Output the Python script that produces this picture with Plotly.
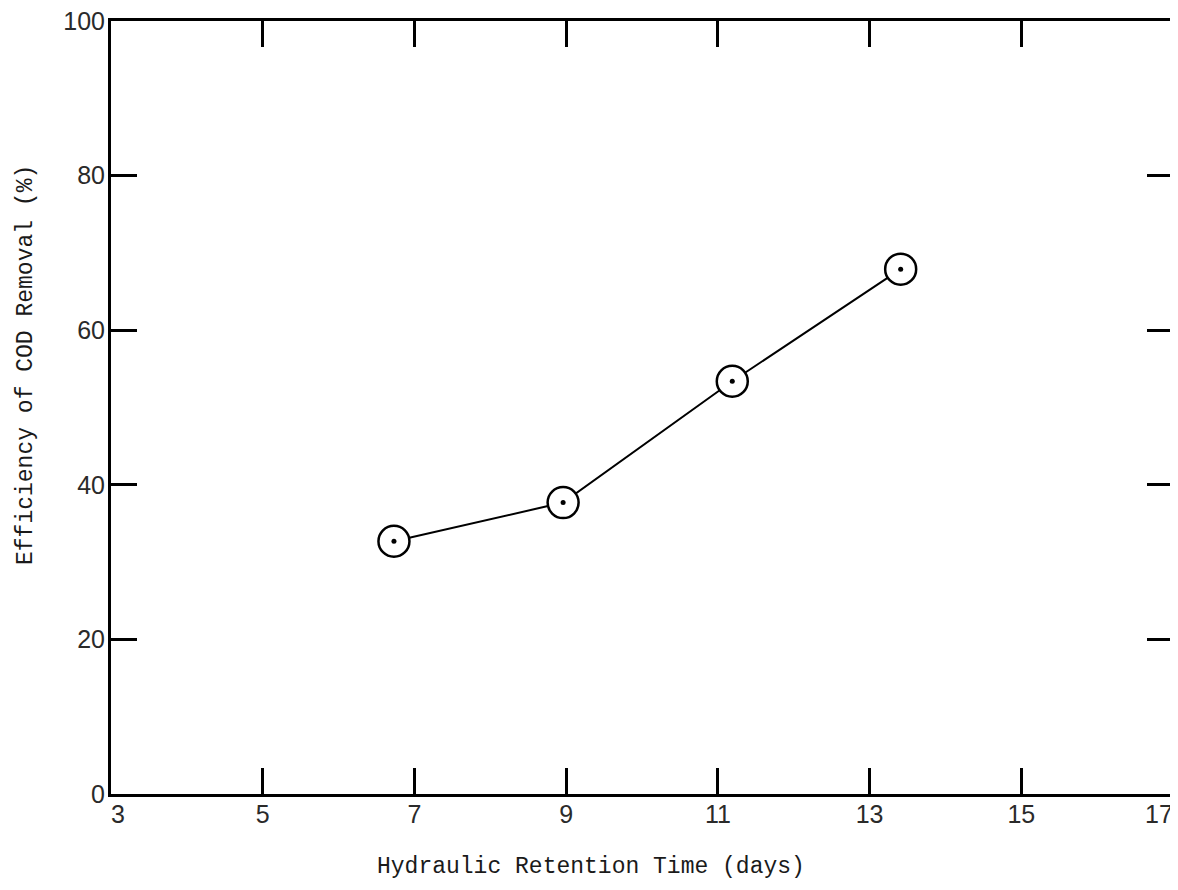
import plotly.graph_objects as go

hrt_days = [6.73, 8.96, 11.19, 13.41]
cod_removal = [32.7, 37.7, 53.4, 67.9]

x_ticks = [3, 5, 7, 9, 11, 13, 15, 17]
y_ticks = [0, 20, 40, 60, 80, 100]

# page offset of the figure inside the browser body
OFFX, OFFY = 7, 6
PL, PR, PT, PB = 110, 1172, 19, 792  # desired plot box in page pixels
PW, PH = PR - PL, PB - PT

fig = go.Figure()
fig.add_trace(go.Scatter(
    x=hrt_days, y=cod_removal, mode="lines+markers",
    line=dict(color="black", width=2),
    marker=dict(symbol="circle", size=31, color="white",
                line=dict(color="black", width=2.5)),
    showlegend=False, cliponaxis=False))
fig.add_trace(go.Scatter(
    x=hrt_days, y=cod_removal, mode="markers",
    marker=dict(symbol="circle", size=5, color="black"),
    showlegend=False, cliponaxis=False))

tick_font = dict(family="Liberation Sans, Arial, sans-serif", size=25, color="#2a2a2a")
title_font = dict(family="Liberation Mono, DejaVu Sans Mono, monospace", size=23, color="#1a1a1a")

x_text = [str(v) for v in x_ticks]
x_text_axis = [""] + x_text[1:-1] + [""]

fig.update_xaxes(
    range=[3, 17], tickvals=x_ticks, ticktext=x_text_axis,
    ticks="inside", ticklen=26, tickwidth=2.5, tickcolor="black",
    showline=True, linecolor="black", linewidth=3, mirror="ticks",
    showgrid=False, zeroline=False, tickfont=tick_font,
    ticklabelstandoff=-4, ticklabeloverflow="allow", automargin=False)
fig.update_yaxes(
    range=[0, 100], tickvals=y_ticks, ticktext=[str(v) for v in y_ticks],
    ticks="inside", ticklen=26, tickwidth=2.5, tickcolor="black",
    showline=True, linecolor="black", linewidth=3, mirror="ticks",
    showgrid=False, zeroline=False, tickfont=tick_font,
    ticklabelstandoff=-2, ticklabeloverflow="allow", automargin=False)

annotations = [
    dict(text="Hydraulic Retention Time (days)", xref="paper", yref="paper",
         x=(590 - PL) / PW, y=-(865 - PB) / PH, xanchor="center", yanchor="middle",
         showarrow=False, font=title_font),
    dict(text="Efficiency of COD Removal (%)", xref="paper", yref="paper",
         x=-(PL - 25) / PW, y=(PB - 363) / PH, xanchor="center", yanchor="middle",
         textangle=-90, showarrow=False, font=title_font),
    dict(text=x_text[0], x=x_ticks[0], xref="x", yref="paper", y=-(812 - PB) / PH,
         xanchor="left", yanchor="middle", xshift=-2, showarrow=False, font=tick_font),
    dict(text=x_text[-1], x=x_ticks[-1], xref="x", yref="paper", y=-(812 - PB) / PH,
         xanchor="right", yanchor="middle", xshift=2, showarrow=False, font=tick_font),
]

fig.update_layout(
    width=1178 - OFFX, height=890 - OFFY,
    margin=dict(l=PL - OFFX, r=1178 - PR, t=PT - OFFY, b=890 - PB),
    paper_bgcolor="white", plot_bgcolor="white",
    annotations=annotations)

fig.write_html("out.html")
